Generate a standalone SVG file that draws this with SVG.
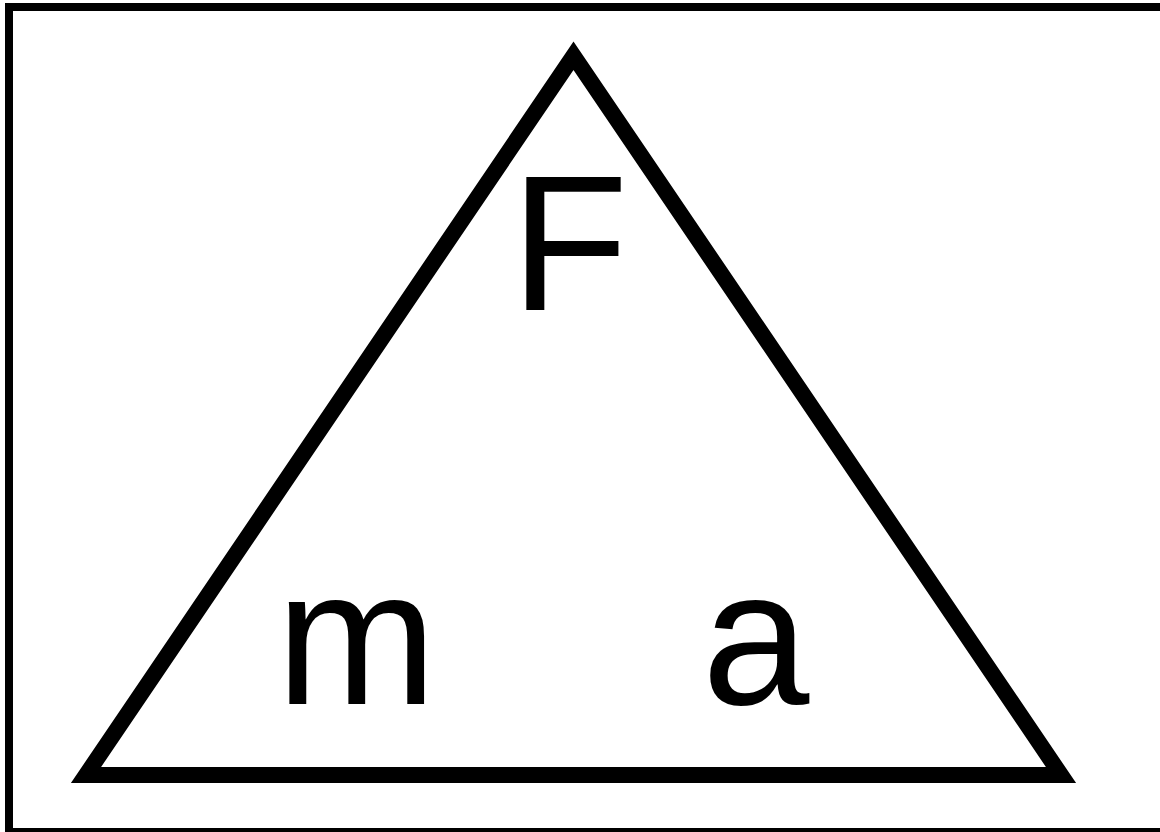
<svg xmlns="http://www.w3.org/2000/svg" width="1160" height="832" viewBox="0 0 1160 832">
<style>
.lbl{font-family:"Liberation Sans",Arial,sans-serif;font-size:193px;fill:#000}
</style>
<rect x="0" y="0" width="1160" height="832" fill="#fff"/>
<g id="frame"><rect x="9" y="7" width="1155" height="825" fill="none" stroke="#000" stroke-width="8"/></g>
<g id="triangle"><polygon points="573.5,55.7 1061,775 86,775" fill="none" stroke="#000" stroke-width="16" stroke-linejoin="miter"/></g>
<g id="node-F"><text class="lbl" x="510.5" y="310">F</text></g>
<g id="node-m"><text class="lbl" x="276" y="704">m</text></g>
<g id="node-a"><text class="lbl" x="702" y="704">a</text></g>
<g id="connectors"></g>
</svg>
